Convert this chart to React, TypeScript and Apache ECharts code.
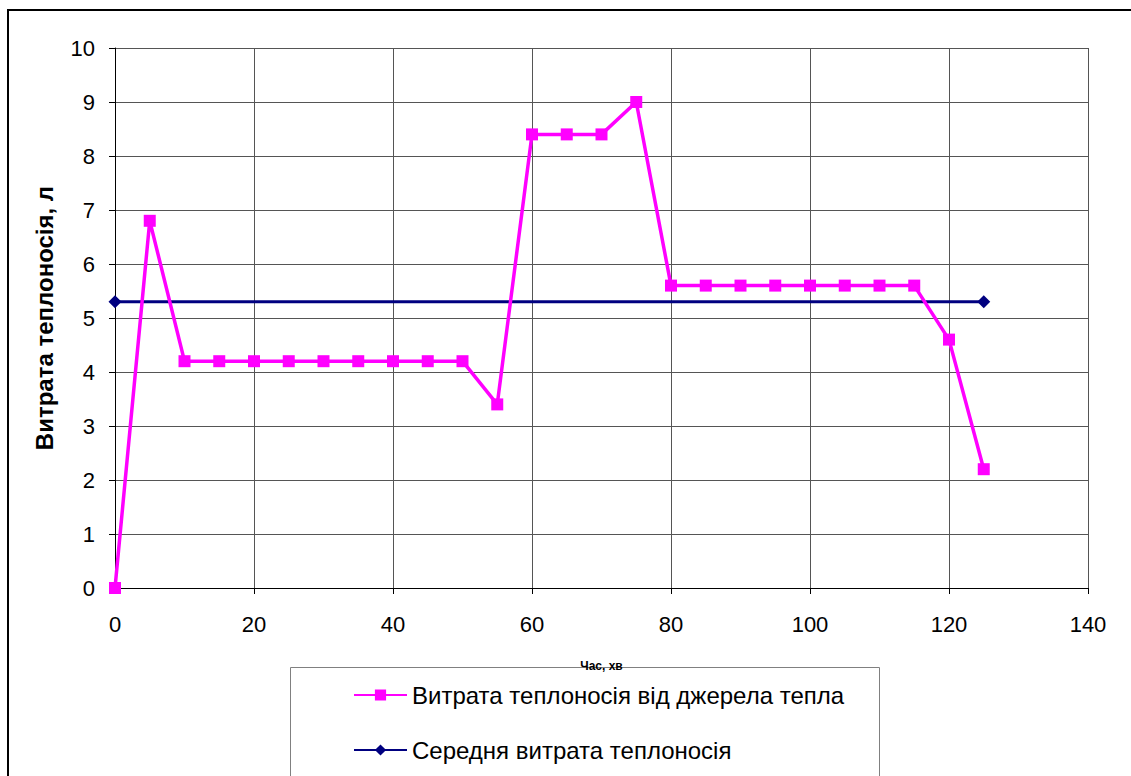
import React, { useEffect, useRef } from "react";
import * as echarts from "echarts";

const times = [0, 5, 10, 15, 20, 25, 30, 35, 40, 45, 50, 55, 60, 65, 70, 75, 80, 85, 90, 95, 100, 105, 110, 115, 120, 125];
const flow = [0, 6.8, 4.2, 4.2, 4.2, 4.2, 4.2, 4.2, 4.2, 4.2, 4.2, 3.4, 8.4, 8.4, 8.4, 9, 5.6, 5.6, 5.6, 5.6, 5.6, 5.6, 5.6, 5.6, 4.6, 2.2];
const avgTimes = [0, 125];
const avgFlow = [5.3, 5.3];

const seriesNames = ["Витрата теплоносія від джерела тепла", "Середня витрата теплоносія"];
const xAxisName = "Час, хв";
const yAxisName = "Витрата теплоносія, л";

const FONT = "'Liberation Sans', Arial, sans-serif";

export default function App() {
  const ref = useRef<HTMLDivElement>(null);
  useEffect(() => {
    if (!ref.current) return;
    const chart = echarts.init(ref.current, undefined, { renderer: "svg" });
    chart.setOption({
      animation: false,
      backgroundColor: "#ffffff",
      textStyle: { fontFamily: FONT },
      graphic: [
        {
          type: "rect",
          shape: { x: 8, y: 10, width: 1140, height: 800 },
          style: { fill: "none", stroke: "#000", lineWidth: 2 },
          silent: true,
        },
        {
          type: "rect",
          shape: { x: 290.5, y: 667.5, width: 589, height: 130 },
          style: { fill: "none", stroke: "#808080", lineWidth: 1 },
          silent: true,
        },
      ],
      grid: { left: 115, right: 43, top: 48, bottom: 188, containLabel: false },
      legend: {
        orient: "vertical",
        left: 353,
        top: 683,
        padding: 0,
        itemGap: 31,
        itemWidth: 53,
        itemHeight: 14,
        textStyle: { fontSize: 24, lineHeight: 24, color: "#000", fontFamily: FONT },
        data: seriesNames,
      },
      xAxis: {
        type: "value",
        min: 0,
        max: 140,
        interval: 20,
        name: xAxisName,
        nameLocation: "middle",
        nameGap: 72,
        nameTextStyle: { fontSize: 12, fontWeight: "bold", color: "#000", fontFamily: FONT },
        axisLine: { show: true, lineStyle: { color: "#000", width: 1 } },
        axisTick: { show: true, length: 6, lineStyle: { color: "#000" } },
        axisLabel: { fontSize: 22, color: "#000", margin: 25, fontFamily: FONT },
        splitLine: { show: true, lineStyle: { color: "#555", width: 1 } },
      },
      yAxis: {
        type: "value",
        min: 0,
        max: 10,
        interval: 1,
        name: yAxisName,
        nameLocation: "middle",
        nameGap: 59,
        nameTextStyle: { fontSize: 24, fontWeight: "bold", color: "#000", fontFamily: FONT },
        axisLine: { show: true, lineStyle: { color: "#000", width: 1 } },
        axisTick: { show: true, length: 6, lineStyle: { color: "#000" } },
        axisLabel: { fontSize: 22, color: "#000", margin: 20, fontFamily: FONT },
        splitLine: { show: true, lineStyle: { color: "#555", width: 1 } },
      },
      series: [
        {
          name: seriesNames[1],
          type: "line",
          data: avgTimes.map((t, i) => [t, avgFlow[i]]),
          symbol: "diamond",
          symbolSize: 13,
          lineStyle: { color: "#000080", width: 3 },
          itemStyle: { color: "#000080" },
          z: 2,
        },
        {
          name: seriesNames[0],
          type: "line",
          data: times.map((t, i) => [t, flow[i]]),
          symbol: "rect",
          symbolSize: 12,
          lineStyle: { color: "#FF00FF", width: 3.5 },
          itemStyle: { color: "#FF00FF" },
          z: 3,
        },
      ],
    });
    return () => chart.dispose();
  }, []);
  return (
    <div
      ref={ref}
      style={{ position: "fixed", left: 0, top: 0, width: 1131, height: 776 }}
    />
  );
}
